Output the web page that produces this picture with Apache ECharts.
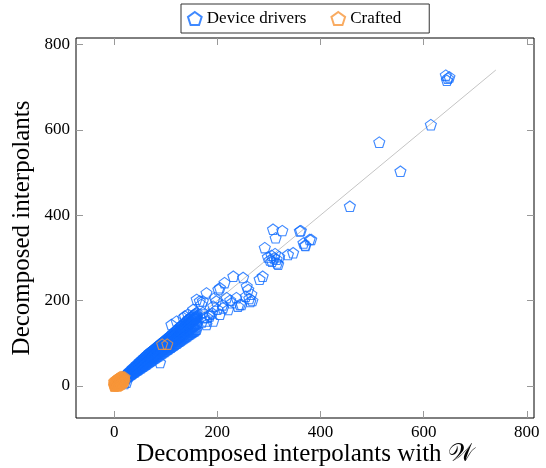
<!DOCTYPE html>
<html>
<head>
<meta charset="utf-8">
<script src="https://cdn.jsdelivr.net/npm/echarts@6/dist/echarts.min.js"></script>
<style>
  html, body { margin: 0; padding: 0; background: #fff; }
  #chart { width: 546px; height: 468px; }
</style>
</head>
<body>
<div id="chart"></div>
<script>
// tick labels
const xTicks = [0, 200, 400, 600, 800];
const yTicks = [0, 200, 400, 600, 800];

// y = x reference
const refLine = [[0, 0], [740, 740]];

// Device drivers: sparse points
const driversSparse = [
    // outliers
    [643, 728], [650, 724], [645, 716], [647, 721], [614, 612], [514, 571], [555, 503], [457, 421],
    // upper cluster
    [362, 364], [382, 343], [371, 329], [367, 335], [308, 367], [326, 364], [313, 347], [360, 363],
    [379, 343], [370, 330], [292, 324], [305, 306], [310, 300], [315, 297], [302, 295], [320, 303],
    [306, 292], [316, 288], [298, 302], [312, 310], [318, 285], [347, 312], [337, 308], [288, 257],
    [282, 250],
    // middle scatter
    [231, 257], [250, 254], [214, 242], [179, 218], [205, 230], [228, 195], [247, 191], [221, 179],
    [198, 199], [192, 187], [172, 199], [160, 203], [169, 191], [153, 179], [143, 168], [134, 160],
    [121, 152], [111, 144], [185, 168], [205, 168], [192, 152], [179, 144], [211, 183], [260, 226],
    [266, 215], [262, 205], [268, 200], [255, 210], [264, 198], [257, 234], [240, 187], [237, 207],
    [218, 207], [195, 207], [202, 226], [166, 199], [172, 172], [185, 164], [179, 152], [143, 156],
    [137, 164], [89, 55], [244, 191], [200, 180], [210, 190], [225, 201], [180, 161], [190, 171],
    [170, 150], [175, 160], [20, 6], [24, 9]
];

// Device drivers: the dense band near the diagonal
const driversBand = [
    [2, 2], [3, 2], [2, 3], [3, 3], [2, 1],
    [4, 3], [5, 4], [4, 4], [5, 5], [4, 5],
    [6, 5], [7, 5], [6, 6], [7, 7], [6, 7],
    [8, 7], [9, 7], [8, 8], [9, 9], [8, 10],
    [10, 8], [11, 9], [10, 10], [11, 12], [10, 12],
    [12, 10], [13, 11], [12, 12], [13, 13], [12, 14],
    [14, 12], [15, 13], [14, 15], [15, 15], [14, 16],
    [16, 13], [17, 15], [16, 16], [17, 18], [16, 19],
    [18, 15], [19, 17], [18, 18], [19, 20], [18, 21],
    [20, 17], [21, 18], [20, 21], [21, 22], [20, 23],
    [22, 18], [23, 20], [22, 22], [23, 24], [22, 26],
    [24, 20], [25, 23], [24, 24], [25, 26], [24, 27],
    [26, 22], [27, 24], [26, 27], [27, 28], [26, 30],
    [28, 23], [29, 26], [28, 28], [29, 31], [28, 32],
    [30, 25], [31, 28], [30, 30], [31, 33], [30, 35],
    [32, 27], [33, 29], [32, 33], [33, 34], [32, 36],
    [34, 28], [35, 31], [34, 34], [35, 37], [34, 39],
    [36, 30], [37, 34], [36, 36], [37, 39], [36, 42],
    [38, 32], [39, 35], [38, 39], [39, 41], [38, 43],
    [40, 33], [41, 37], [40, 40], [41, 44], [40, 46],
    [42, 35], [43, 39], [42, 43], [43, 45], [42, 48],
    [44, 37], [45, 40], [44, 44], [45, 47], [44, 51],
    [46, 38], [47, 43], [46, 46], [47, 49], [46, 52],
    [48, 40], [49, 44], [48, 49], [49, 51], [48, 55],
    [50, 42], [51, 46], [50, 50], [51, 54], [50, 58],
    [52, 43], [53, 48], [52, 53], [53, 56], [52, 59],
    [54, 45], [55, 50], [54, 54], [55, 58], [54, 62],
    [56, 46], [57, 52], [56, 57], [57, 60], [56, 64],
    [58, 48], [59, 53], [58, 58], [59, 62], [58, 67],
    [60, 50], [61, 55], [60, 61], [61, 64], [60, 68],
    [62, 51], [63, 57], [62, 62], [63, 67], [62, 71],
    [64, 53], [65, 59], [64, 65], [65, 68], [64, 73],
    [66, 55], [67, 61], [66, 66], [67, 71], [66, 75],
    [68, 56], [69, 63], [68, 69], [69, 73], [68, 78],
    [70, 58], [71, 64], [70, 70], [71, 75], [70, 80],
    [72, 60], [73, 66], [72, 73], [73, 77], [72, 81],
    [74, 61], [75, 68], [74, 74], [75, 79], [74, 83],
    [76, 63], [77, 70], [76, 77], [77, 81], [76, 85],
    [78, 65], [79, 72], [78, 78], [79, 84], [78, 87],
    [80, 66], [81, 74], [80, 81], [81, 86], [80, 89],
    [82, 68], [83, 75], [82, 82], [83, 88], [82, 91],
    [84, 70], [85, 77], [84, 85], [85, 90], [84, 93],
    [86, 71], [87, 79], [86, 86], [87, 92], [86, 95],
    [88, 73], [89, 81], [88, 89], [89, 94], [88, 97],
    [90, 75], [91, 83], [90, 90], [91, 96], [90, 99],
    [92, 76], [93, 85], [92, 93], [93, 98], [92, 101],
    [94, 78], [95, 86], [94, 94], [95, 100], [94, 103],
    [96, 80], [97, 88], [96, 97], [97, 102], [96, 105],
    [98, 81], [99, 90], [98, 98], [99, 104], [98, 107],
    [100, 83], [101, 92], [100, 101], [101, 105], [100, 108],
    [102, 85], [103, 94], [102, 102], [103, 107], [102, 111],
    [104, 86], [105, 96], [104, 105], [105, 109], [104, 113],
    [106, 88], [107, 98], [106, 106], [107, 111], [106, 115],
    [108, 90], [109, 99], [108, 109], [109, 113], [108, 117],
    [110, 91], [111, 101], [110, 110], [111, 115], [110, 119],
    [112, 93], [113, 103], [112, 113], [113, 117], [112, 121],
    [114, 95], [115, 105], [114, 114], [115, 119], [114, 124],
    [116, 96], [117, 107], [116, 117], [117, 121], [116, 125],
    [118, 98], [119, 109], [118, 118], [119, 123], [118, 128],
    [120, 100], [121, 110], [120, 121], [121, 125], [120, 130],
    [122, 101], [123, 112], [122, 122], [123, 127], [122, 132],
    [124, 103], [125, 114], [124, 125], [125, 129], [124, 134],
    [126, 105], [127, 116], [126, 126], [127, 131], [126, 137],
    [128, 106], [129, 118], [128, 129], [129, 133], [128, 139],
    [130, 108], [131, 120], [130, 130], [131, 135], [130, 141],
    [132, 110], [133, 121], [132, 133], [133, 137], [132, 143],
    [134, 111], [135, 123], [134, 134], [135, 139], [134, 145],
    [136, 113], [137, 125], [136, 137], [137, 141], [136, 147],
    [138, 115], [139, 127], [138, 138], [139, 143], [138, 150],
    [140, 116], [141, 129], [140, 141], [141, 145], [140, 151],
    [142, 118], [143, 131], [142, 142], [143, 147], [142, 153],
    [144, 120], [145, 132], [144, 145], [145, 149], [144, 156],
    [146, 121], [147, 134], [146, 146], [147, 151], [146, 158],
    [148, 123], [149, 136], [148, 149], [149, 153], [148, 160],
    [150, 125], [151, 138], [150, 150], [151, 155], [150, 162],
    [152, 126], [153, 140], [152, 153], [153, 157], [152, 164],
    [154, 128], [155, 142], [154, 154], [155, 159], [154, 166],
    [156, 129], [157, 144], [156, 157], [157, 161], [156, 168],
    [158, 131], [159, 145], [158, 158], [159, 163], [158, 170],
    [160, 133], [161, 147], [160, 161], [161, 165], [160, 172]
];

// Crafted
const crafted = [
    [0, 0], [1, 3], [2, 1], [3, 6], [4, 2], [5, 5], [6, 9], [7, 4], [8, 8], [9, 12],
    [10, 7], [11, 10], [12, 14], [13, 9], [14, 13], [15, 17], [16, 12], [17, 16], [18, 19], [19, 15],
    [20, 21], [2, 9], [0, 6], [6, 1], [0, 2], [1, 0], [3, 3], [4, 8], [5, 1], [6, 6],
    [7, 11], [8, 3], [9, 9], [10, 14], [11, 5], [12, 11], [13, 17], [14, 8], [15, 14], [16, 19],
    [17, 10], [18, 13], [19, 18], [1, 12], [3, 14], [5, 16], [8, 18], [10, 20], [12, 22], [15, 22],
    [0, 10], [2, 4], [4, 11], [6, 13], [9, 16], [11, 18], [14, 20], [17, 21], [13, 4], [16, 7],
    [18, 9], [20, 12], [7, 0], [10, 2],
    [93, 98], [103, 98]
];

const blue = '#0f6bff';
const orange = '#f7963a';
const font = '"Liberation Serif", "DejaVu Serif", serif';
const pentagon = 'path://M0,-10 L9.51,-3.09 L5.88,8.09 L-5.88,8.09 L-9.51,-3.09 Z';

function tickAxis(ticks, pos, showLabel) {
    return {
        type: 'value',
        position: pos,
        axisLine: { show: false, onZero: false },
        splitLine: { show: false },
        axisTick: { show: true, inside: true, length: 7, customValues: ticks, lineStyle: { color: '#999', width: 1 } },
        axisLabel: { show: showLabel, customValues: ticks, margin: 6, fontSize: 17, fontFamily: font, color: '#000' }
    };
}

const chart = echarts.init(document.getElementById('chart'));

const xBottom = Object.assign(tickAxis(xTicks, 'bottom', true), {
    min: -74, max: 814,
    name: 'Decomposed interpolants with \u{1D4B2}',
    nameLocation: 'middle', nameGap: 24, nameMoveOverlap: false,
    nameTextStyle: { fontSize: 25, fontFamily: font, color: '#000', verticalAlign: 'top' }
});
const xTop = Object.assign(tickAxis(xTicks, 'top', false), { min: -74, max: 814 });
const yLeft = Object.assign(tickAxis(yTicks, 'left', true), {
    min: -75, max: 815,
    name: 'Decomposed interpolants',
    nameLocation: 'middle', nameGap: 41, nameRotate: 90, nameMoveOverlap: false,
    nameTextStyle: { fontSize: 25, fontFamily: font, color: '#000', verticalAlign: 'bottom' }
});
const yRight = Object.assign(tickAxis(yTicks, 'right', false), { min: -75, max: 815 });

chart.setOption({
    animation: false,
    grid: {
        left: 76, right: 12, top: 38, bottom: 50,
        outerBoundsMode: 'none', containLabel: false,
        show: true, borderColor: '#000', borderWidth: 1
    },
    legend: {
        left: 181, top: 4,
        padding: [6, 28, 6, 6],
        borderColor: '#333', borderWidth: 1,
        itemGap: 24, itemWidth: 14, itemHeight: 13,
        textStyle: { fontSize: 17, fontFamily: font, color: '#000' },
        data: [
            { name: 'Device drivers', icon: pentagon },
            { name: 'Crafted', icon: pentagon }
        ]
    },
    xAxis: [xBottom, xTop],
    yAxis: [yLeft, yRight],
    series: [
        {
            type: 'line', data: refLine, symbol: 'none', silent: true, z: 1,
            lineStyle: { color: '#c4c4c4', width: 1 }
        },
        {
            name: 'Device drivers', type: 'scatter', data: driversSparse.concat(driversBand), z: 2,
            symbol: pentagon, symbolSize: [11, 10.5],
            itemStyle: { color: 'rgba(0,0,0,0)', borderColor: blue, borderWidth: 1.1 },
            emphasis: { disabled: true }
        },
        {
            name: 'Crafted', type: 'scatter', data: crafted, z: 3,
            symbol: pentagon, symbolSize: [11, 10.5],
            itemStyle: { color: 'rgba(0,0,0,0)', borderColor: orange, borderWidth: 1.1 },
            emphasis: { disabled: true }
        }
    ]
});
</script>
</body>
</html>
